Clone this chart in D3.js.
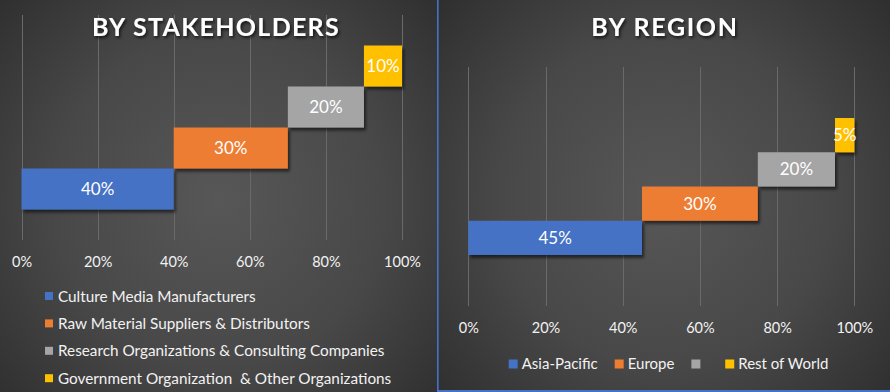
<!DOCTYPE html>
<html><head><meta charset="utf-8">
<script src="https://cdn.jsdelivr.net/npm/d3@7/dist/d3.min.js"></script>
<style>
html,body{margin:0;padding:0;background:#333;}
svg{display:block;}
text{font-family:Lato,"Open Sans",sans-serif;}
</style></head>
<body><svg id="c" width="890" height="392"></svg>
<script>
// ---- data ----
const stakeCategories = ["Culture Media Manufacturers", "Raw Material Suppliers & Distributors", "Research Organizations & Consulting Companies", "Government Organization  & Other Organizations"];
const stakeValues = [40, 30, 20, 10];
const regionCategories = ["Asia-Pacific", "Europe", "", "Rest of World"];
const regionValues = [45, 30, 20, 5];
const seriesColors = ["#4472C4", "#ED7D31", "#A5A5A5", "#FFC000"];
const tickValues = [0, 20, 40, 60, 80, 100];
const tickLabels = ["0%", "20%", "40%", "60%", "80%", "100%"];
const titles = ["BY STAKEHOLDERS", "BY REGION"];

const svg = d3.select("#c");
const defs = svg.append("defs");

function radial(id, cx, cy) {
  const g = defs.append("radialGradient").attr("id", id)
    .attr("gradientUnits", "userSpaceOnUse")
    .attr("cx", cx).attr("cy", cy).attr("r", 300);
  g.append("stop").attr("offset", "0%").attr("stop-color", "#575757");
  g.append("stop").attr("offset", "55%").attr("stop-color", "#484848");
  g.append("stop").attr("offset", "100%").attr("stop-color", "#2f2f2f");
}
radial("bgL", 219, 200);
radial("bgR", 664, 200);

const sh = defs.append("filter").attr("id", "shadow").attr("x", "-10%").attr("y", "-20%").attr("width", "130%").attr("height", "160%");
sh.append("feDropShadow").attr("dx", 2).attr("dy", 3).attr("stdDeviation", 1.8).attr("flood-color", "#000").attr("flood-opacity", 0.55);
const tsh = defs.append("filter").attr("id", "tshadow").attr("x", "-10%").attr("y", "-30%").attr("width", "130%").attr("height", "180%");
tsh.append("feDropShadow").attr("dx", 1.5).attr("dy", 2).attr("stdDeviation", 1.5).attr("flood-color", "#000").attr("flood-opacity", 0.7);

svg.append("rect").attr("x", 0).attr("y", 0).attr("width", 438).attr("height", 392).attr("fill", "url(#bgL)");
svg.append("rect").attr("x", 438).attr("y", 0).attr("width", 452).attr("height", 392).attr("fill", "url(#bgR)");

function panel(cfg) {
  const g = svg.append("g");
  const x = d3.scaleLinear().domain([0, 100]).range([cfg.x0, cfg.x1]);
  const y = d3.scaleBand().domain(cfg.categories.map((d, i) => i).reverse())
    .range([cfg.yTop, cfg.yBot]).paddingInner(0).paddingOuter(cfg.pad);

  // gridlines
  g.append("g").selectAll("line").data(tickValues).join("line")
    .attr("x1", d => Math.round(x(d)) + 0.5).attr("x2", d => Math.round(x(d)) + 0.5)
    .attr("y1", cfg.yTop).attr("y2", cfg.yBot)
    .attr("stroke", "#6a6a6a").attr("stroke-width", 1);

  // axis labels
  const axis = d3.axisBottom(x).tickValues(tickValues).tickFormat((d, i) => tickLabels[i]).tickSize(0).tickPadding(0);
  const ag = g.append("g").attr("transform", `translate(0,${cfg.tickY})`).call(axis);
  ag.select(".domain").remove();
  ag.selectAll("text").attr("fill", "#f2f2f2").attr("font-size", 14.5).attr("font-family", "Lato,sans-serif").attr("dy", "0.35em").attr("y", 0);

  // bars
  const starts = [0, ...d3.cumsum(cfg.values)];
  const bars = g.append("g").attr("filter", "url(#shadow)");
  bars.selectAll("rect").data(cfg.values).join("rect")
    .attr("x", (d, i) => x(starts[i])).attr("width", (d, i) => x(starts[i] + d) - x(starts[i]))
    .attr("y", (d, i) => y(i)).attr("height", y.bandwidth())
    .attr("fill", (d, i) => seriesColors[i]);
  g.append("g").selectAll("text").data(cfg.values).join("text")
    .attr("x", (d, i) => (x(starts[i]) + x(starts[i] + d)) / 2)
    .attr("y", (d, i) => y(i) + y.bandwidth() / 2)
    .attr("dy", "0.36em").attr("text-anchor", "middle")
    .attr("fill", "#fff").attr("font-size", 17)
    .text(d => d + "%");

  // title
  svg.append("text").attr("x", cfg.titleX).attr("y", 36).attr("text-anchor", "middle")
    .attr("font-family", "'Open Sans',sans-serif").attr("font-weight", 700)
    .attr("font-size", 25).attr("letter-spacing", cfg.ls).attr("fill", "#fff")
    .attr("filter", "url(#tshadow)").text(cfg.title);
  return { x, y, g };
}

const L = panel({ categories: stakeCategories, values: stakeValues, x0: 21.5, x1: 402, yTop: 15, yBot: 240, pad: 0.744, tickY: 262, title: titles[0], titleX: 216, ls: 1.3 });
const R = panel({ categories: regionCategories, values: regionValues, x0: 468.3, x1: 854.3, yTop: 67, yBot: 306, pad: 1.49, tickY: 328, title: titles[1], titleX: 665, ls: 1.7 });

// left legend (vertical)
const lg = svg.append("g");
const rows = lg.selectAll("g").data(stakeCategories).join("g")
  .attr("transform", (d, i) => `translate(45,${296 + i * 27.4})`);
rows.append("rect").attr("x", 0).attr("y", -4).attr("width", 8).attr("height", 8).attr("fill", (d, i) => seriesColors[i]);
rows.append("text").attr("x", 13).attr("dy", "0.36em").attr("fill", "#f2f2f2").attr("font-size", 15.3)
  .style("white-space", "pre").text(d => d);

// right legend (horizontal)
const rg = svg.append("g");
const rItems = rg.selectAll("g").data(regionCategories).join("g");
rItems.append("rect").attr("x", 0).attr("y", -4.5).attr("width", 9).attr("height", 9).attr("fill", (d, i) => seriesColors[i]);
rItems.append("text").attr("x", 13).attr("dy", "0.36em").attr("fill", "#f2f2f2").attr("font-size", 15)
  .style("white-space", "pre").text(d => d === "" ? " " : d);
let widths = [];
rItems.each(function () { widths.push(13 + this.querySelector("text").getComputedTextLength()); });
const gap = 17;
const total = d3.sum(widths) + gap * (widths.length - 1);
let cx = 668.5 - total / 2;
rItems.attr("transform", (d, i) => { const t = `translate(${cx},364)`; cx += widths[i] + gap; return t; });

// panel borders
svg.append("rect").attr("x", 437).attr("y", 0).attr("width", 1.6).attr("height", 392).attr("fill", "#4472C4");
svg.append("rect").attr("x", 438).attr("y", 390).attr("width", 452).attr("height", 2).attr("fill", "#4472C4");
</script></body></html>
